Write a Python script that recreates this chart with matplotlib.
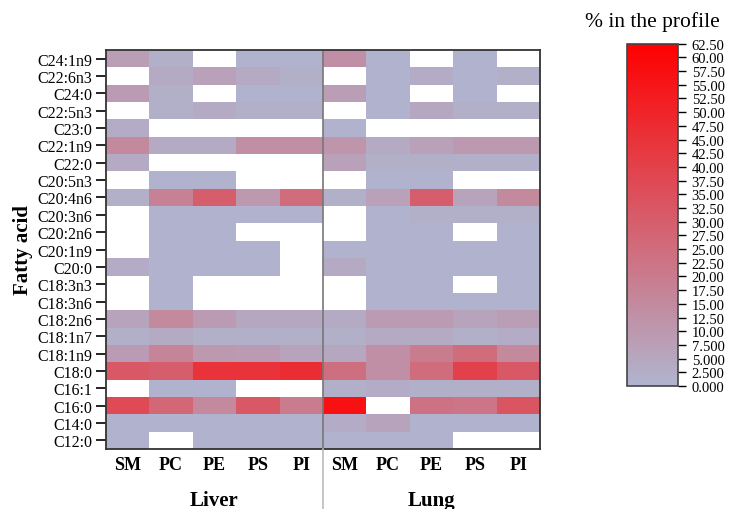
import matplotlib
matplotlib.use('Agg')
import matplotlib.pyplot as plt
import numpy as np
from matplotlib.colors import LinearSegmentedColormap
from matplotlib.lines import Line2D
from matplotlib.ticker import FuncFormatter, MultipleLocator

plt.rcParams['font.family'] = ['Liberation Serif', 'DejaVu Serif']

# Fatty acids, top to bottom as shown
fatty_acids = ["C24:1n9", "C22:6n3", "C24:0", "C22:5n3", "C23:0", "C22:1n9", "C22:0",
               "C20:5n3", "C20:4n6", "C20:3n6", "C20:2n6", "C20:1n9", "C20:0",
               "C18:3n3", "C18:3n6", "C18:2n6", "C18:1n7", "C18:1n9", "C18:0",
               "C16:1", "C16:0", "C14:0", "C12:0"]
classes = ["SM", "PC", "PE", "PS", "PI"]
tissues = ["Liver", "Lung"]
nan = np.nan

# % in the profile, columns SM, PC, PE, PS, PI (NaN = not detected)
liver = [
    [8, 2, nan, 1, 1],
    [nan, 4, 7, 4, 2],
    [9, 2, nan, 1, 1],
    [nan, 2, 4, 2, 2],
    [3, nan, nan, nan, nan],
    [15, 4, 4, 13, 13],
    [4, nan, nan, nan, nan],
    [nan, 1, 1, nan, nan],
    [2, 18, 30, 10, 25],
    [nan, 1, 1, 1, 1],
    [nan, 1, 1, nan, nan],
    [nan, 1, 1, 1, nan],
    [3, 1, 1, 1, nan],
    [nan, 1, nan, nan, nan],
    [nan, 1, nan, nan, nan],
    [6, 15, 9, 5, 5],
    [2, 4, 2, 2, 2],
    [9, 17, 10, 9, 6],
    [32, 30, 45, 45, 47],
    [nan, 1, 1, nan, nan],
    [37, 27, 15, 32, 20],
    [1, 1, 1, 1, 1],
    [1, nan, 1, 1, 1],
]
lung = [
    [13, 1, nan, 1, nan],
    [nan, 1, 3, 1, 2],
    [8, 1, nan, 1, nan],
    [nan, 1, 5, 2, 2],
    [1, nan, nan, nan, nan],
    [11, 4, 7, 10, 10],
    [7, 2, 2, 2, 2],
    [nan, 1, 1, nan, nan],
    [2, 7, 30, 6, 15],
    [nan, 1, 2, 2, 2],
    [nan, 1, 1, nan, 1],
    [1, 1, 1, 1, 1],
    [4, 1, 1, 1, 1],
    [nan, 1, 1, nan, 1],
    [nan, 1, 1, 1, 1],
    [4, 9, 9, 6, 8],
    [2, 4, 4, 2, 3],
    [5, 13, 20, 25, 15],
    [24, 13, 25, 40, 32],
    [2, 3, 2, 2, 2],
    [57, nan, 23, 22, 33],
    [3, 6, 1, 1, 1],
    [1, 1, 1, nan, nan],
]

data = np.hstack([np.array(liver, dtype=float), np.array(lung, dtype=float)])
data = np.ma.masked_invalid(data[::-1])  # bottom row first for pcolormesh

cmap = LinearSegmentedColormap.from_list("prof", ["#B0B5D0", "#FF0000"])

fig = plt.figure(figsize=(7.29, 5.10), dpi=100)
ax = fig.add_axes([0.1454, 0.1176, 0.5953, 0.7824])

n_rows = len(fatty_acids)
n_cols = data.shape[1]
mesh = ax.pcolormesh(np.arange(n_cols + 1), np.arange(n_rows + 1), data,
                     cmap=cmap, vmin=0, vmax=62.5)
ax.set_xlim(0, n_cols)
ax.set_ylim(0, n_rows)

ax.set_yticks(np.arange(n_rows) + 0.5)
ax.set_yticklabels(fatty_acids[::-1], fontsize=11.5)
ax.tick_params(axis='y', length=7, width=1.2, pad=3)
ax.set_xticks(np.arange(n_cols) + 0.5)
ax.set_xticklabels(classes * 2, fontsize=13, fontweight='bold')
ax.tick_params(axis='x', length=0, pad=5)
for s in ax.spines.values():
    s.set_linewidth(1.3)
    s.set_color('#333333')

ax.set_ylabel('Fatty acid', fontsize=15, fontweight='bold', labelpad=3)

# tissue labels and divider
for i, t in enumerate(tissues):
    ax.text(2.5 + 5 * i, -2.95, t, ha='center', va='center',
            fontsize=15, fontweight='bold')
ax.plot([5, 5], [0, n_rows], color='#777777', lw=1.2)
x_div = 0.1454 + 0.5953 * 0.5
fig.add_artist(Line2D([x_div, x_div], [0, 0.1176], color='#BBBBBB', lw=1.2))

# colorbar
cax = fig.add_axes([0.8597, 0.2412, 0.07, 0.6712])
cb = fig.colorbar(mesh, cax=cax)
cb.ax.yaxis.set_major_locator(MultipleLocator(2.5))
cb.ax.yaxis.set_major_formatter(
    FuncFormatter(lambda v, p: f"{v:.2f}" if v >= 10 else f"{v:.3f}"))
cb.ax.tick_params(labelsize=10.5, length=6, width=1, pad=4)
cb.outline.set_linewidth(1.2)
cb.outline.set_edgecolor('#444444')
cax.set_title('% in the profile', fontsize=15.5, pad=13)

plt.savefig('out.png', dpi=100)
